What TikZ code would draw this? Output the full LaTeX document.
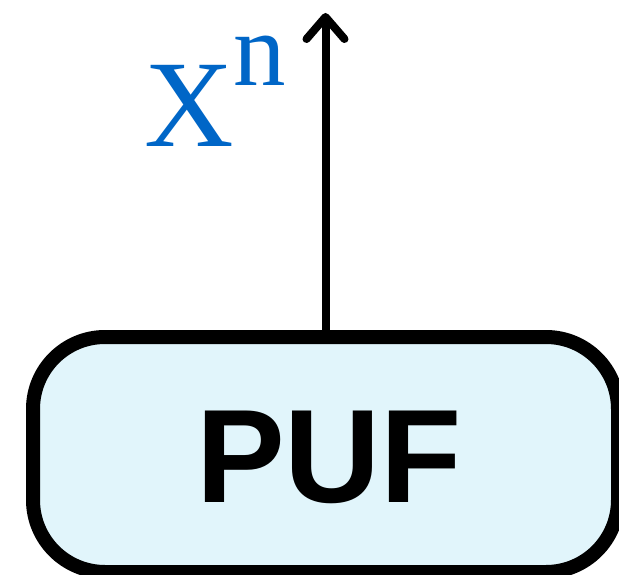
\documentclass[tikz,border=0pt]{standalone}
\usepackage{fontspec}
\setmainfont{Liberation Serif}
\newfontfamily\labelsans{Liberation Sans}
\usetikzlibrary{arrows.meta}
\definecolor{pufblue}{RGB}{0,102,199}
\definecolor{pufill}{RGB}{225,245,251}
\tikzset{
  pufbox/.style={draw=black, fill=pufill, line width=14pt, rounded corners=72pt,
    minimum width=585pt, minimum height=235pt, inner sep=0pt},
  puftext/.style={font=\labelsans\bfseries\fontsize{133}{133}\selectfont, inner sep=0pt},
  outarrow/.style={line width=8pt, -{Straight Barb[length=22pt, width=38pt, line cap=round, round]}},
  xlabel/.style={text=pufblue, inner sep=0pt, anchor=base west}
}
\begin{document}
\begin{tikzpicture}[x=1pt, y=-1pt]
\useasboundingbox (0,0) rectangle (619,575);
\node[pufbox] (box) at (325.5,454.5) {};
\node[puftext] (puf) at (329,457) {PUF};
\coordinate (tip) at (325.5,13);
\draw[outarrow] (box.north) -- (tip);
\node[xlabel] (xn) at (144,147) {\fontsize{124}{124}\selectfont X\raisebox{62pt}{\fontsize{105}{105}\selectfont n}};
\end{tikzpicture}
\end{document}
